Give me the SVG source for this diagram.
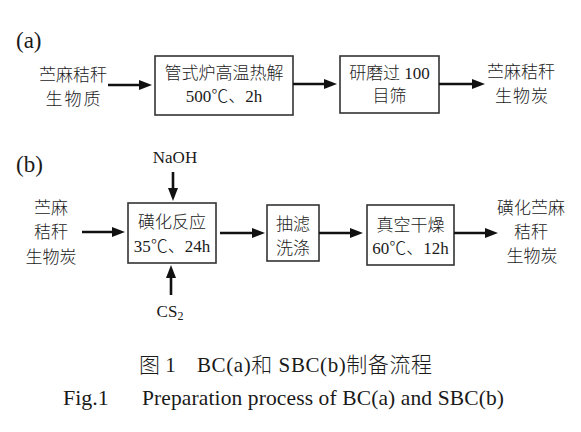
<svg xmlns="http://www.w3.org/2000/svg" width="581" height="432" viewBox="0 0 581 432">
<defs>
<style>
text{font-family:"Liberation Serif","Noto Sans CJK SC",serif;fill:#1a1a1a;font-weight:300;}
.t{font-size:17px;text-anchor:middle;}
.lab{font-size:23px;}
.cap{font-size:21px;}
.box{fill:#fff;stroke:#333;stroke-width:1.6;}
.ar{stroke:#111;stroke-width:2.6;fill:none;marker-end:url(#ah);}
</style>
<marker id="ah" markerUnits="userSpaceOnUse" markerWidth="14" markerHeight="10" refX="3" refY="5" orient="auto">
<path d="M0,0 L13,5 L0,10 z" fill="#111"/>
</marker>
</defs>
<rect width="581" height="432" fill="#fff"/>

<text class="lab" x="16" y="48">(a)</text>
<text class="lab" x="16" y="172">(b)</text>

<g id="a-input">
<text class="t" x="73" y="81">苎麻秸秆</text>
<text class="t" x="74" y="105" letter-spacing="2">生物质</text>
</g>
<g id="a-pyrolysis">
<rect class="box" x="155" y="56" width="138" height="59"/>
<text class="t" x="224" y="79">管式炉高温热解</text>
<text class="t" x="224" y="102">500℃、2h</text>
</g>
<g id="a-grind">
<rect class="box" x="340" y="56" width="99" height="57"/>
<text class="t" x="389.5" y="79">研磨过 100</text>
<text class="t" x="389.5" y="102">目筛</text>
</g>
<g id="a-output">
<text class="t" x="521" y="78">苎麻秸秆</text>
<text class="t" x="522" y="102" letter-spacing="1">生物炭</text>
</g>

<g id="b-input">
<text class="t" x="51" y="214">苎麻</text>
<text class="t" x="51" y="238">秸秆</text>
<text class="t" x="51" y="263">生物炭</text>
</g>
<g id="b-naoh">
<text class="t" x="175" y="163">NaOH</text>
</g>
<g id="b-cs2">
<text class="t" x="170" y="317">CS<tspan font-size="12" dy="3">2</tspan></text>
</g>
<g id="b-sulfonation">
<rect class="box" x="128" y="203" width="88" height="60"/>
<text class="t" x="172" y="228">磺化反应</text>
<text class="t" x="172" y="252">35℃、24h</text>
</g>
<g id="b-filter">
<rect class="box" x="267" y="205" width="52" height="56"/>
<text class="t" x="293" y="230">抽滤</text>
<text class="t" x="293" y="254">洗涤</text>
</g>
<g id="b-dry">
<rect class="box" x="367" y="205" width="87" height="60"/>
<text class="t" x="410.5" y="231">真空干燥</text>
<text class="t" x="410.5" y="254">60℃、12h</text>
</g>
<g id="b-output">
<text class="t" x="531" y="214">磺化苎麻</text>
<text class="t" x="531" y="238">秸秆</text>
<text class="t" x="532" y="262">生物炭</text>
</g>

<g id="connectors">
<line class="ar" x1="108" y1="85" x2="142" y2="85"/>
<line class="ar" x1="293" y1="84" x2="327" y2="84"/>
<line class="ar" x1="439" y1="84" x2="475" y2="84"/>
<line class="ar" x1="82" y1="232" x2="115" y2="232"/>
<line class="ar" x1="220" y1="233" x2="255" y2="233"/>
<line class="ar" x1="319" y1="233" x2="353" y2="233"/>
<line class="ar" x1="454" y1="233" x2="488" y2="233"/>
<line class="ar" x1="173" y1="172" x2="173" y2="191"/>
<line class="ar" x1="171" y1="295" x2="171" y2="275"/>
</g>

<text class="cap" x="139" y="372">图 1</text>
<text class="cap" x="197" y="372" textLength="235" lengthAdjust="spacing">BC(a)和 SBC(b)制备流程</text>
<text x="63" y="405" font-size="22">Fig.1</text>
<text class="cap" x="142" y="405" textLength="362" lengthAdjust="spacing" style="font-size:21.5px">Preparation process of BC(a) and SBC(b)</text>
</svg>
